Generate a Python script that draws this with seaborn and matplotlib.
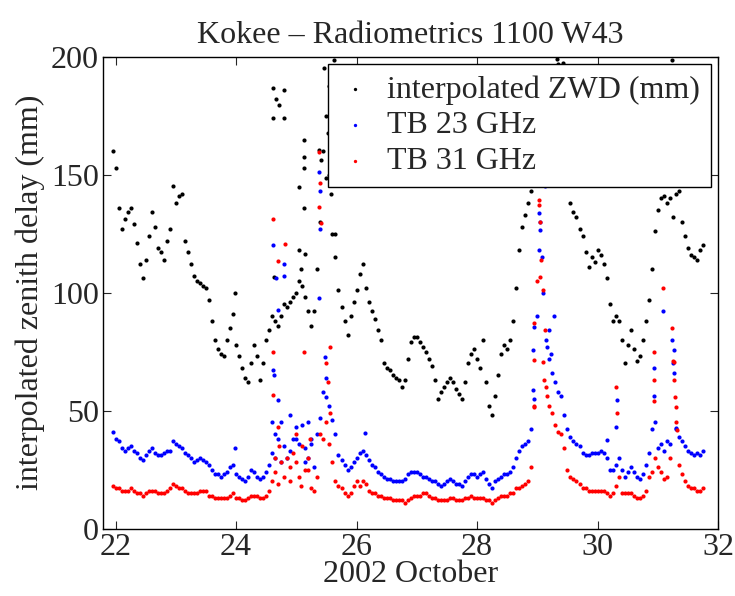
import numpy as np
import pandas as pd
import matplotlib
matplotlib.use('Agg')
import matplotlib.pyplot as plt
import seaborn as sns

# regular sampling grid (day of October 2002), 0.05 day step
t_grid = np.round(np.arange(21.95, 31.751, 0.05), 2)

# interpolated ZWD (mm)
zwd = [160, 153, 136, 127, 131, 134, 136, 129, 121, 112,
       106, 114, 124, 134, 128, 119, 117, 114, 122, 127,
       145, 138, 141, 142, 122, 117, 112, 107, 105, 104,
       103, 102, 97, 88, 80, 76, 74, 73, 80, 85,
       91, 78, 73, 68, 64, 62, 70, 78, 73, 63,
       70, 80, 84, 90, 88, 86, 90, 95, 94, 96,
       98, 100, 105, 103, 98, 92, 86, 92, 110, 130,
       160, 175, 150, 125, 115, 101, 94, 88, 82, 90,
       96, 101, 108, 112, 102, 96, 92, 89, 84, 80,
       70, 68, 67, 65, 64, 63, 60, 63, 72, 79,
       81, 81, 79, 77, 75, 72, 69, 63, 55, 58,
       60, 62, 64, 62, 59, 57, 55, 62, 70, 74,
       76, 72, 68, 80, 62, 52, 48, 56, 65, 74,
       78, 76, 80, 88, 102, 118, 128, 133, 138, 143,
       150, 160, 168, 175, 180, 185, 190, 195, 197, 185,
       165, 146, 138, 134, 132, 127, 124, 117, 111, 115,
       113, 118, 116, 112, 106, 95, 88, 90, 88, 80,
       70, 78, 84, 76, 71, 73, 80, 88, 97, 110,
       126, 135, 140, 141, 138, 140, 132, 142, 143, 130,
       124, 119, 116, 115, 114, 118, 120]

# TB 23 GHz
tb23 = [41, 38, 37, 34, 33, 34, 35, 33, 32, 30,
        29, 31, 33, 34, 32, 31, 31, 32, 33, 33,
        37, 36, 35, 34, 32, 31, 30, 28, 29, 30,
        29, 28, 27, 25, 23, 23, 22, 23, 24, 26,
        27, 23, 22, 21, 20, 22, 25, 24, 22, 21,
        22, 24, 27, 32, 30, 38, 28, 35, 30, 33,
        38, 43, 36, 44, 34, 30, 36, 26, 40, 47,
        58, 64, 52, 46, 40, 31, 29, 27, 25, 26,
        28, 30, 32, 33, 31, 29, 27, 26, 24, 23,
        22, 21, 21, 20, 20, 20, 20, 21, 23, 24,
        24, 24, 23, 22, 22, 21, 20, 20, 19, 18,
        19, 20, 21, 20, 19, 19, 18, 20, 22, 23,
        23, 22, 23, 24, 21, 19, 17, 20, 21, 22,
        23, 23, 24, 26, 30, 33, 35, 36, 37, 42,
        55, 90, 130, 100, 80, 72, 66, 62, 58, 56,
        48, 42, 39, 37, 36, 35, 32, 31, 31, 32,
        32, 32, 33, 32, 30, 25, 25, 27, 30, 25,
        22, 24, 26, 24, 22, 21, 23, 27, 32, 42,
        45, 34, 36, 33, 37, 36, 70, 42, 39, 37,
        35, 33, 32, 31, 32, 31, 33]

# TB 31 GHz
tb31 = [18, 17, 17, 16, 16, 16, 17, 16, 15, 15,
        14, 15, 16, 16, 16, 15, 15, 15, 16, 17,
        19, 18, 17, 17, 16, 15, 15, 15, 15, 16,
        16, 16, 14, 14, 13, 13, 13, 13, 13, 14,
        15, 13, 13, 12, 12, 13, 14, 14, 14, 13,
        13, 14, 16, 20, 24, 19, 28, 22, 30, 26,
        32, 28, 22, 35, 25, 30, 17, 16, 22, 40,
        38, 45, 36, 28, 20, 18, 17, 15, 14, 15,
        18, 20, 18, 20, 19, 16, 15, 15, 14, 14,
        13, 13, 13, 12, 12, 12, 12, 11, 12, 13,
        14, 14, 14, 15, 15, 14, 13, 13, 12, 12,
        12, 12, 13, 13, 12, 12, 12, 13, 13, 14,
        13, 13, 13, 13, 12, 12, 11, 12, 13, 14,
        14, 14, 15, 15, 17, 17, 18, 19, 20, 26,
        52, 105, 130, 101, 60, 52, 49, 44, 41, 40,
        34, 25, 22, 21, 20, 19, 17, 17, 16, 16,
        16, 16, 16, 16, 15, 14, 15, 18, 22, 15,
        15, 15, 15, 14, 13, 13, 14, 16, 22, 24,
        30, 26, 24, 21, 22, 30, 71, 45, 27, 23,
        20, 18, 17, 17, 16, 16, 17]

# scattered points off the main tracks
zwd_extra_t = [23.98, 24.62, 24.62, 24.66, 24.71, 24.80, 24.80, 25.05, 25.12, 25.12,
               25.13, 25.12, 25.05, 25.15, 25.38, 25.41, 25.46, 25.54, 25.52, 25.50,
               25.63, 25.58, 25.64, 29.33, 29.43, 31.24, 24.63, 25.08]
zwd_extra_v = [99.7, 186.6, 173.9, 182.0, 179.5, 185.9, 173.9, 144.9, 164.7, 157.6,
               152.7, 135.7, 118.0, 116.4, 160.4, 156.2, 195.0, 187.7, 167.5, 148.4,
               198.6, 142.0, 125.0, 198.9, 197.2, 198.6, 106.7, 110.0]

tb23_extra_t = [23.98, 24.61, 24.62, 24.63, 24.66, 24.70, 24.70, 24.80, 24.80, 24.60,
                25.38, 25.40, 25.39, 25.37, 25.48, 25.50, 26.14, 28.93, 28.92, 28.94,
                29.02, 29.05, 29.03, 29.07, 29.13, 29.09, 29.19, 29.16, 29.27, 29.22,
                30.16, 30.32, 30.31, 30.94, 30.94, 31.09, 31.24, 31.26, 31.27, 31.30,
                24.65, 24.75, 24.90, 25.00, 25.15, 25.20, 25.25]
tb23_extra_v = [34.0, 120.0, 67.0, 65.0, 106.0, 92.6, 54.5, 112.0, 107.0, 45.0,
                151.0, 143.0, 127.0, 97.6, 72.8, 55.9, 40.4, 58.7, 75.7, 85.5,
                133.6, 126.5, 118.0, 115.2, 145.0, 150.0, 84.0, 77.0, 90.0, 74.0,
                37.5, 54.5, 43.0, 68.0, 56.0, 92.3, 80.0, 75.7, 65.8, 42.5,
                40.0, 45.0, 48.0, 38.0, 28.0, 45.0, 38.0]

tb31_extra_t = [24.61, 24.62, 24.62, 24.70, 24.81, 24.70, 25.12, 25.37, 25.40, 25.38,
                25.41, 25.56, 25.50, 25.52, 25.56, 28.94, 28.94, 28.94, 29.02, 29.03,
                29.06, 29.05, 29.12, 29.09, 29.11, 29.16, 30.31, 30.32, 30.94, 30.94,
                30.94, 31.09, 31.24, 31.26, 31.26, 31.29, 31.30, 31.32,
                24.65, 24.72, 24.90, 25.00, 25.08, 25.20, 25.22]
tb31_extra_v = [131.0, 75.0, 56.6, 43.0, 120.5, 113.5, 75.0, 159.5, 146.3, 136.4,
                129.4, 77.0, 70.0, 62.0, 48.8, 87.0, 71.4, 51.6, 139.3, 137.0,
                113.8, 106.7, 84.0, 70.7, 63.0, 56.0, 60.0, 49.0, 75.0, 63.0,
                54.0, 101.8, 85.0, 70.7, 63.0, 55.9, 51.6, 41.8,
                30.0, 35.0, 20.0, 40.0, 18.0, 25.0, 38.0]

labels = ['interpolated ZWD (mm)', 'TB 23 GHz', 'TB 31 GHz']
colors = ['black', 'blue', 'red']

frames = []
for name, main, xt, xv in [(labels[0], zwd, zwd_extra_t, zwd_extra_v),
                           (labels[1], tb23, tb23_extra_t, tb23_extra_v),
                           (labels[2], tb31, tb31_extra_t, tb31_extra_v)]:
    frames.append(pd.DataFrame({'day': list(t_grid) + xt,
                                'value': list(main) + xv,
                                'series': name}))
df = pd.concat(frames, ignore_index=True)

sns.set_style('ticks')
plt.rcParams['font.family'] = ['Liberation Serif', 'DejaVu Serif']
plt.rcParams['font.size'] = 23

fig = plt.figure(figsize=(7.35, 5.96), dpi=100)
ax = fig.add_axes([0.140, 0.1132, 0.837, 0.7917])

for name, col in zip(labels, colors):
    sub = df[df['series'] == name]
    sns.scatterplot(data=sub, x='day', y='value', color=col, s=9,
                    linewidth=0, label=name, ax=ax, zorder=2)

ax.set_xlim(21.79, 32)
ax.set_ylim(0, 200)
ax.set_xticks([22, 24, 26, 28, 30, 32])
ax.set_yticks([0, 50, 100, 150, 200])
ax.tick_params(direction='in', top=True, right=True, length=6, width=0.8,
               labelsize=23, pad=3)
for sp in ax.spines.values():
    sp.set_linewidth(1.0)
    sp.set_color('black')

ax.set_title('Kokee \u2013 Radiometrics 1100 W43', fontsize=23, pad=10)
ax.set_xlabel('2002 October', fontsize=23, labelpad=-1)
ax.set_ylabel('interpolated zenith delay (mm)', fontsize=23, labelpad=4)

leg = ax.legend(loc='upper right', bbox_to_anchor=(711 / 735, 1 - 64 / 596),
                bbox_transform=fig.transFigure, fontsize=23, frameon=True,
                fancybox=False, framealpha=1, edgecolor='black',
                markerscale=0.8, handlelength=1.0, handletextpad=0.5,
                labelspacing=0.2, borderpad=0.35, borderaxespad=0)
leg.get_frame().set_linewidth(1.0)
leg.set_zorder(5)

fig.savefig('out.png', dpi=100)
